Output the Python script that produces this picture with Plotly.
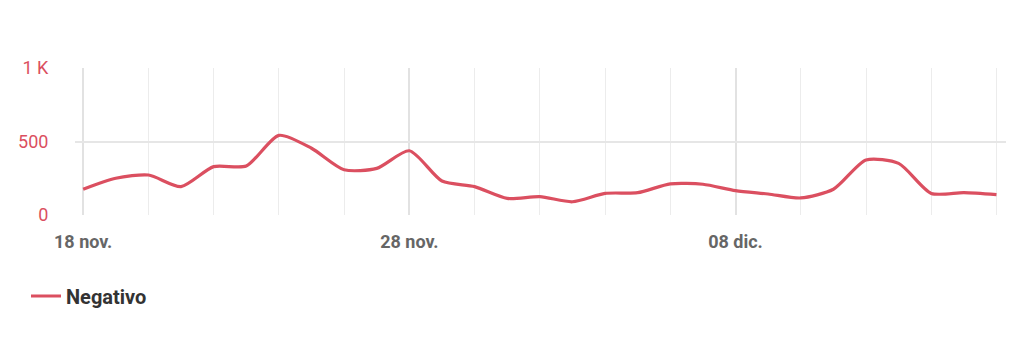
import pandas as pd
import plotly.graph_objects as go

start_date = "2020-11-18"
values = [175, 250, 272, 193, 329, 333, 542, 454, 308, 317, 437, 231, 193, 113,
          125, 90, 147, 152, 212, 209, 166, 143, 116, 175, 374, 351, 147, 152, 138]
dates = pd.date_range(start_date, periods=len(values), freq="D")

series_name = "Negativo"
x_tick_vals = ["2020-11-18", "2020-11-28", "2020-12-08"]
x_tick_text = ["18 nov.", "28 nov.", "08 dic."]
y_tick_vals = [0, 500, 1000]
y_tick_text = ["0", "500", "1 K"]

red = "#db4f60"

fig = go.Figure()
fig.add_trace(go.Scatter(
    x=dates, y=values, mode="lines", name=series_name,
    line=dict(color=red, width=3.2, shape="spline", smoothing=0.7),
    showlegend=True,
))

fig.update_layout(
    width=1023, height=341,
    margin=dict(l=75, r=17, t=68, b=126),
    paper_bgcolor="white", plot_bgcolor="white",
    font=dict(family="Roboto, sans-serif"),
    showlegend=True,
    legend=dict(
        orientation="h", xref="container", yref="container",
        x=26/1023, y=1 - 296/341, xanchor="left", yanchor="middle",
        font=dict(size=20, color="#333333", family="Roboto, sans-serif", weight="bold"),
    ),
)
fig.update_xaxes(
    range=[pd.Timestamp("2020-11-17 18:00"), pd.Timestamp("2020-12-16 07:00")],
    tickvals=x_tick_vals, ticktext=x_tick_text,
    tickfont=dict(size=18, color="#666666", weight="bold"),
    showgrid=True, gridcolor="#e2e2e2", gridwidth=1.5,
    minor=dict(dtick=2 * 86400000, tick0="2020-11-18", showgrid=True,
               gridcolor="#ececec", gridwidth=1),
    ticks="outside", ticklen=10, tickcolor="rgba(0,0,0,0)",
    showline=False, zeroline=False,
)
fig.update_yaxes(
    range=[0, 1000],
    tickvals=y_tick_vals, ticktext=y_tick_text,
    tickfont=dict(size=18, color=red),
    showgrid=True, gridcolor="#e6e6e6", gridwidth=1.5,
    zeroline=False, showline=False,
    ticks="outside", ticklen=22, tickcolor="rgba(0,0,0,0)",
)

fig.write_html("out.html")
